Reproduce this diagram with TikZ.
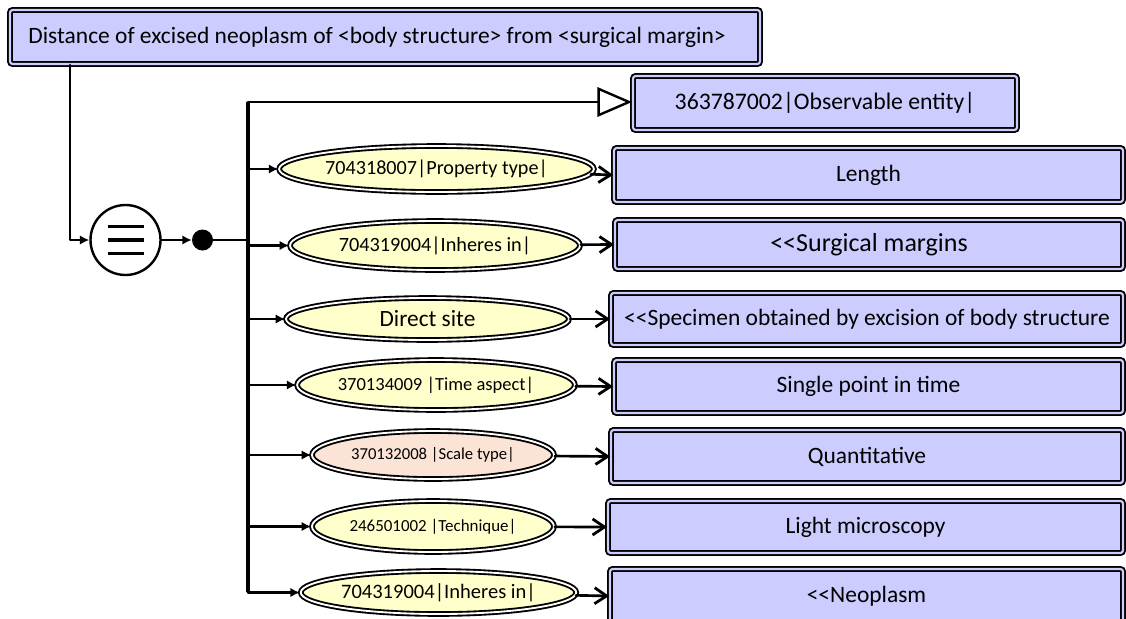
\documentclass[tikz,border=0pt]{standalone}
\usepackage{fontspec}
\setmainfont{Carlito}
\usepackage{tikz}
\usetikzlibrary{arrows.meta, positioning, shapes, calc, shapes.geometric}
\definecolor{ConceptBlue}{RGB}{204, 204, 255}
\definecolor{AttrYellow}{RGB}{255, 255, 204}
\definecolor{AttrPeach}{RGB}{251, 228, 213}
\newcommand{\fs}[1]{\fontsize{#1}{#1}\selectfont}
\tikzset{
    dims/.style 2 args={minimum width=#1*0.75pt, minimum height=#2*0.75pt},
    conceptbox/.style={draw=black, line width=1.4pt, double=ConceptBlue, double distance=1.6pt, fill=ConceptBlue, rounded corners=2pt, inner sep=0pt},
    attr/.style={ellipse, draw=black, line width=1.4pt, double=white, double distance=1.4pt, fill=AttrYellow, inner sep=0pt},
    link/.style={line width=2pt, line cap=round, line join=round},
    toattr/.style={link, -{Latex[length=7pt, width=7pt]}},
    tovalue/.style={link, -{Straight Barb[length=9pt, width=12pt, line width=2.1pt]}},
    isa/.style={link, -{Triangle[open, length=26pt, width=22pt, fill=white, line width=1.8pt]}}
}

\begin{document}
\begin{tikzpicture}[x=0.75pt, y=-0.75pt]
    \useasboundingbox (0,0) rectangle (1126,618);
    \clip (0,0) rectangle (1126,618);

    \node [conceptbox, dims={750}{54}, font=\fs{17.6}] (concept) at (385,37)
        {\hspace*{-12pt}Distance of excised neoplasm of <body structure> from <surgical margin>};
    \node [conceptbox, dims={384}{54}, font=\fs{17.8}] (observable) at (825,103)
        {363787002|Observable entity|};

    \node [circle, draw=black, line width=1.8pt, dims={70}{70}, inner sep=0pt] (defn) at (125.5,240) {};
    \foreach \dy in {-13.5,0,13.5}
        \draw [line width=2.6pt] ($(defn.center)+(-18,\dy)$) -- +(36,0);
    \node [circle, fill=black, dims={21}{21}, inner sep=0pt] (join) at (202.5,240) {};

    \coordinate (drop) at (70,66);
    \coordinate (trunktop) at (248,102);
    \coordinate (trunkbot) at (248,592);

    % attributes
    \node [attr, dims={297}{46}, font=\fs{15.1}] (propType) at (436.5,169) {704318007|Property type|};
    \node [attr, dims={290}{49}, font=\fs{15.2}] (inheresIn) at (435,245.5) {704319004|Inheres in|};
    \node [attr, dims={283}{42}, font=\fs{17.5}] (directSite) at (427.5,319) {Direct site};
    \node [attr, dims={256}{50}, font=\fs{13.9}] (timeAspect) at (436,385) {370134009 |Time aspect|};
    \node [attr, fill=AttrPeach, dims={242}{48}, font=\fs{12.5}] (scaleType) at (433,455) {370132008 |Scale type|};
    \node [attr, dims={242}{51}, font=\fs{12.7}] (technique) at (433,526.5) {246501002 |Technique|};
    \node [attr, dims={261}{43}, font=\fs{15.4}] (inheresNeo) at (438.5,592.5) {704319004|Inheres in|};

    % values
    \node [conceptbox, dims={509}{54}, font=\fs{17.6}] (length) at (868.5,175) {Length};
    \node [conceptbox, dims={508}{49}, font=\fs{19.5}] (margins) at (869,244.5) {<{}<Surgical margins};
    \node [conceptbox, dims={512}{52}, font=\fs{17.6}] (specimen) at (867,319) {<{}<Specimen obtained by excision of body structure};
    \node [conceptbox, dims={509}{53}, font=\fs{17.6}] (pointTime) at (868.5,386.5) {Single point in time};
    \node [conceptbox, dims={512}{53}, font=\fs{17.6}] (quant) at (867,456.5) {Quantitative};
    \node [conceptbox, dims={515}{52}, font=\fs{17.6}] (microscopy) at (865.5,527) {Light microscopy};
    \node [conceptbox, dims={513}{54}, font=\fs{17.6}] (neoplasm) at (866.5,596) {<{}<Neoplasm};

    \draw [link] (concept.south -| drop) -- (drop);
    \draw [toattr] (drop) |- (defn);
    \draw [toattr] (defn) -- (join);
    \draw [link] (join) -- (join -| trunktop);
    \draw [line width=2.6pt] (trunktop) -- (trunkbot);
    \draw [isa] (trunktop) -- (trunktop -| observable.west);

    \foreach \a/\v in {propType/length, inheresIn/margins, directSite/specimen, timeAspect/pointTime,
                       scaleType/quant, technique/microscopy, inheresNeo/neoplasm} {
        \draw [toattr] (trunktop |- \a) -- (\a);
        \draw [tovalue] (\a) -- (\v.west);
    }
\end{tikzpicture}
\end{document}
